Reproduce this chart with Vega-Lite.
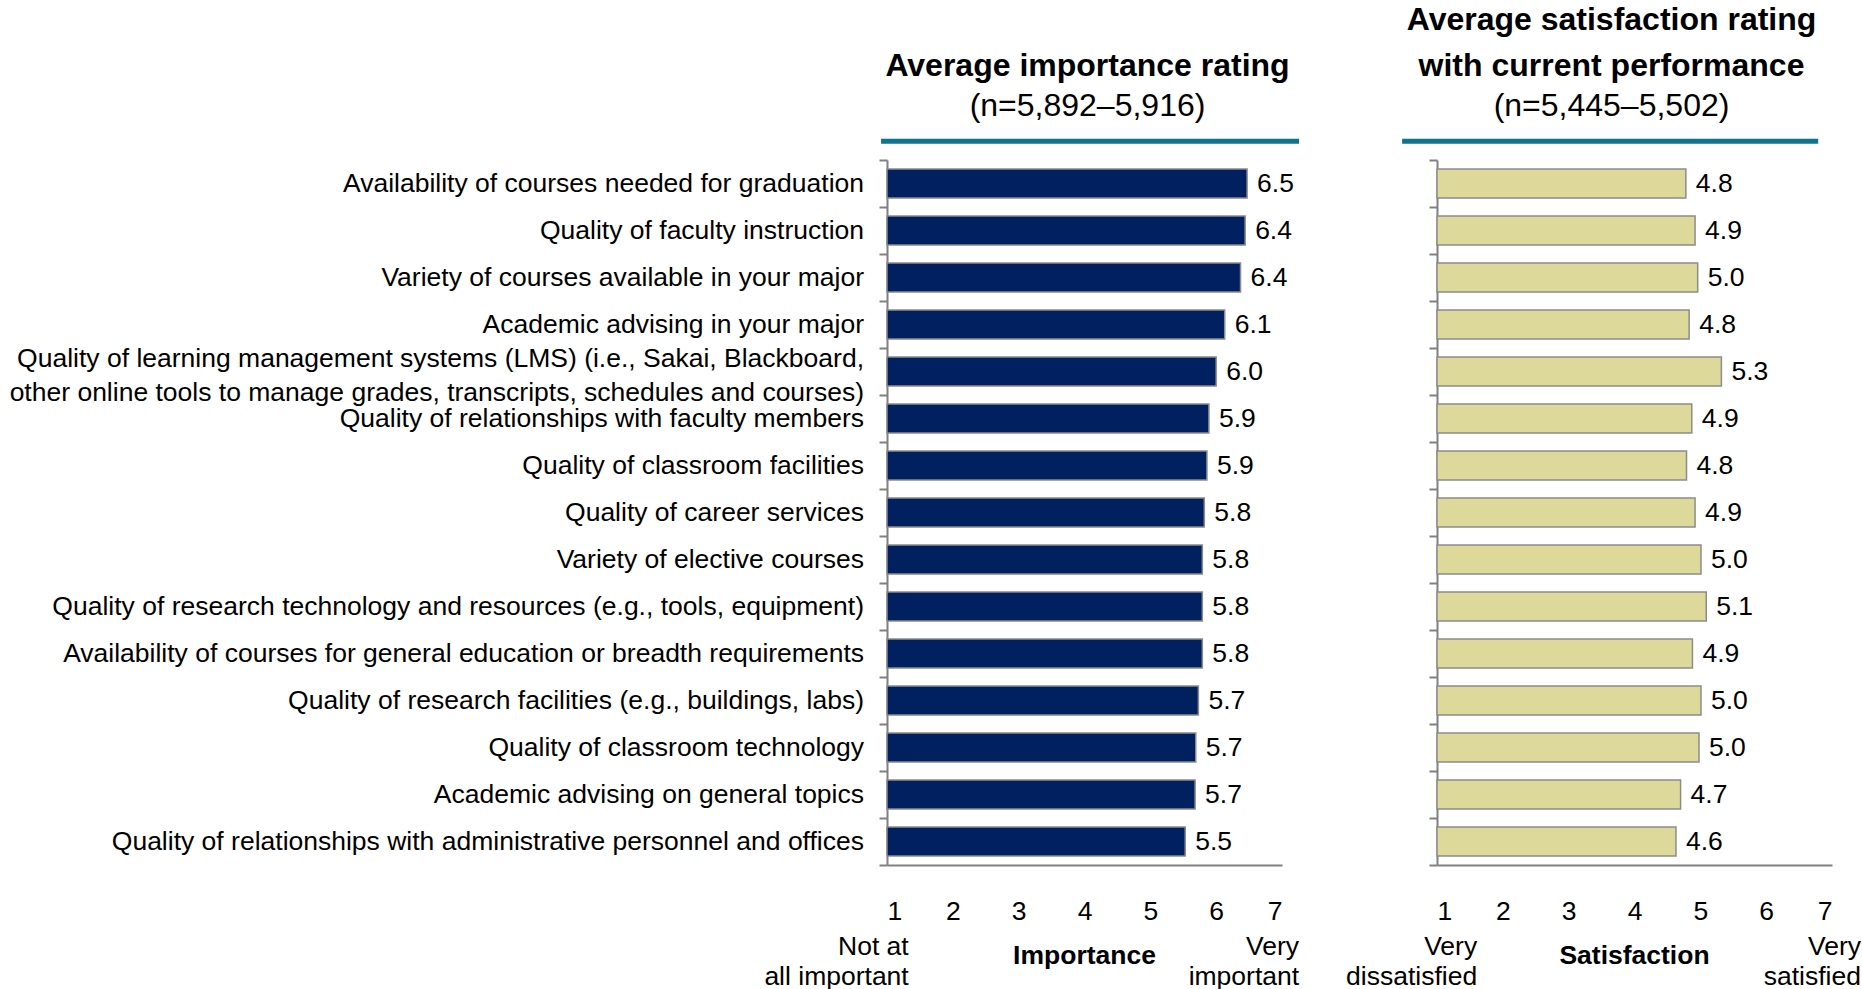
{
  "$schema": "https://vega.github.io/schema/vega-lite/v6.json",
  "background": "white",
  "padding": {"left": 9, "top": 3, "right": 0, "bottom": 0},
  "bounds": "flush",
  "spacing": 155,
  "config": {"font": "Liberation Sans", "view": {"stroke": null}},
  "datasets": {
    "items": [
      {"item": "Availability of courses needed for graduation", "importance": 6.47, "satisfaction": 4.78},
      {"item": "Quality of faculty instruction", "importance": 6.44, "satisfaction": 4.92},
      {"item": "Variety of courses available in your major", "importance": 6.37, "satisfaction": 4.96},
      {"item": "Academic advising in your major", "importance": 6.13, "satisfaction": 4.83},
      {"item": "Quality of learning management systems (LMS) (i.e., Sakai, Blackboard,\nother online tools to manage grades, transcripts, schedules and courses)", "importance": 6.0, "satisfaction": 5.32},
      {"item": "Quality of relationships with faculty members", "importance": 5.89, "satisfaction": 4.87},
      {"item": "Quality of classroom facilities", "importance": 5.86, "satisfaction": 4.79},
      {"item": "Quality of career services", "importance": 5.82, "satisfaction": 4.92},
      {"item": "Variety of elective courses", "importance": 5.79, "satisfaction": 5.01},
      {"item": "Quality of research technology and resources (e.g., tools, equipment)", "importance": 5.79, "satisfaction": 5.09},
      {"item": "Availability of courses for general education or breadth requirements", "importance": 5.79, "satisfaction": 4.88},
      {"item": "Quality of research facilities (e.g., buildings, labs)", "importance": 5.73, "satisfaction": 5.01},
      {"item": "Quality of classroom technology", "importance": 5.69, "satisfaction": 4.98},
      {"item": "Academic advising on general topics", "importance": 5.68, "satisfaction": 4.7},
      {"item": "Quality of relationships with administrative personnel and offices", "importance": 5.53, "satisfaction": 4.63}
    ]
  },
  "hconcat": [
    {
      "width": 395,
      "height": 705,
      "title": {
        "text": "Average importance rating",
        "subtitle": "(n=5,892–5,916)",
        "fontSize": 32,
        "fontWeight": "bold",
        "color": "black",
        "subtitleFontSize": 32,
        "subtitleColor": "black",
        "subtitlePadding": 8,
        "frame": "group",
        "anchor": "middle",
        "offset": 16,
        "dx": 3
      },
      "resolve": {"scale": {"y": "independent"}},
      "layer": [
        {
          "data": {"name": "items"},
          "mark": {"type": "bar", "color": "#00205F", "stroke": "#8C8C8C", "strokeWidth": 1.5, "height": {"band": 0.62}},
          "encoding": {
            "y": {
              "field": "item", "type": "nominal", "sort": null,
              "scale": {"paddingInner": 0, "paddingOuter": 0},
              "axis": {
                "title": null, "labels": false, "domainColor": "#808080", "domainWidth": 2,
                "tickColor": "#808080", "tickWidth": 2, "tickSize": 8, "tickBand": "extent"
              }
            },
            "x": {
              "field": "importance", "type": "quantitative",
              "scale": {"domain": [1, 7], "nice": false, "zero": false},
              "axis": {
                "values": [1, 2, 3, 4, 5, 6, 7], "format": "d", "title": null, "grid": false,
                "ticks": false, "tickSize": 0, "domainColor": "#808080", "domainWidth": 2,
                "labelFontSize": 26.5, "labelColor": "black", "labelPadding": 33
              }
            },
            "x2": {"datum": 1}
          }
        },
        {
          "data": {"name": "items"},
          "mark": {
            "type": "text", "align": "right", "baseline": "middle", "dx": -23, "fontSize": 26.5, "color": "black",
            "lineBreak": "\n", "lineHeight": 34,
            "dy": {"expr": "indexof(datum.item, 'LMS') >= 0 ? -12.5 : 0"}
          },
          "encoding": {
            "y": {"field": "item", "type": "nominal", "sort": null, "scale": {"paddingInner": 0, "paddingOuter": 0}, "axis": null},
            "x": {"datum": 1},
            "text": {"field": "item", "type": "nominal"}
          }
        },
        {
          "data": {"name": "items"},
          "mark": {"type": "text", "align": "left", "baseline": "middle", "dx": 10, "fontSize": 26.5, "color": "black"},
          "encoding": {
            "y": {"field": "item", "type": "nominal", "sort": null, "scale": {"paddingInner": 0, "paddingOuter": 0}, "axis": null},
            "x": {"field": "importance", "type": "quantitative"},
            "text": {"field": "importance", "type": "quantitative", "format": ".1f"}
          }
        },
        {
          "data": {"values": [{}]},
          "mark": {"type": "rule", "color": "#0D7391", "strokeWidth": 5},
          "encoding": {
            "x": {"datum": 0.91},
            "x2": {"datum": 7.26},
            "y": {"datum": 15.4, "type": "quantitative", "scale": {"domain": [0, 15], "nice": false, "zero": false}, "axis": null}
          }
        },
        {
          "data": {"values": [{}]},
          "mark": {"type": "text", "text": ["Not at", "all important"], "align": "right", "baseline": "middle", "lineHeight": 30, "fontSize": 26.5, "color": "black"},
          "encoding": {
            "x": {"datum": 1.33},
            "y": {"datum": -1.74, "type": "quantitative", "scale": {"domain": [0, 15], "nice": false, "zero": false}, "axis": null}
          }
        },
        {
          "data": {"values": [{}]},
          "mark": {"type": "text", "text": "Importance", "align": "center", "baseline": "middle", "fontSize": 26.5, "fontWeight": "bold", "color": "black"},
          "encoding": {
            "x": {"datum": 4},
            "y": {"datum": -1.93, "type": "quantitative", "scale": {"domain": [0, 15], "nice": false, "zero": false}, "axis": null}
          }
        },
        {
          "data": {"values": [{}]},
          "mark": {"type": "text", "text": ["Very", "important"], "align": "right", "baseline": "middle", "lineHeight": 30, "fontSize": 26.5, "color": "black"},
          "encoding": {
            "x": {"datum": 7.26},
            "y": {"datum": -1.74, "type": "quantitative", "scale": {"domain": [0, 15], "nice": false, "zero": false}, "axis": null}
          }
        }
      ]
    },
    {
      "width": 395,
      "height": 705,
      "title": {
        "text": ["Average satisfaction rating", "with current performance"],
        "subtitle": "(n=5,445–5,502)",
        "fontSize": 32,
        "fontWeight": "bold",
        "lineHeight": 46,
        "color": "black",
        "subtitleFontSize": 32,
        "subtitleColor": "black",
        "subtitlePadding": 8,
        "frame": "group",
        "anchor": "middle",
        "offset": 16,
        "dx": -23
      },
      "resolve": {"scale": {"y": "independent"}},
      "layer": [
        {
          "data": {"name": "items"},
          "mark": {"type": "bar", "color": "#DDD99A", "stroke": "#8C8C8C", "strokeWidth": 1.5, "height": {"band": 0.62}},
          "encoding": {
            "y": {
              "field": "item", "type": "nominal", "sort": null,
              "scale": {"paddingInner": 0, "paddingOuter": 0},
              "axis": {
                "title": null, "labels": false, "domainColor": "#808080", "domainWidth": 2,
                "tickColor": "#808080", "tickWidth": 2, "tickSize": 8, "tickBand": "extent"
              }
            },
            "x": {
              "field": "satisfaction", "type": "quantitative",
              "scale": {"domain": [1, 7], "nice": false, "zero": false},
              "axis": {
                "values": [1, 2, 3, 4, 5, 6, 7], "format": "d", "title": null, "grid": false,
                "ticks": false, "tickSize": 0, "domainColor": "#808080", "domainWidth": 2,
                "labelFontSize": 26.5, "labelColor": "black", "labelPadding": 33
              }
            },
            "x2": {"datum": 1}
          }
        },
        {
          "data": {"name": "items"},
          "mark": {"type": "text", "align": "left", "baseline": "middle", "dx": 10, "fontSize": 26.5, "color": "black"},
          "encoding": {
            "y": {"field": "item", "type": "nominal", "sort": null, "scale": {"paddingInner": 0, "paddingOuter": 0}, "axis": null},
            "x": {"field": "satisfaction", "type": "quantitative"},
            "text": {"field": "satisfaction", "type": "quantitative", "format": ".1f"}
          }
        },
        {
          "data": {"values": [{}]},
          "mark": {"type": "rule", "color": "#0D7391", "strokeWidth": 5},
          "encoding": {
            "x": {"datum": 0.47},
            "x2": {"datum": 6.79},
            "y": {"datum": 15.4, "type": "quantitative", "scale": {"domain": [0, 15], "nice": false, "zero": false}, "axis": null}
          }
        },
        {
          "data": {"values": [{}]},
          "mark": {"type": "text", "text": ["Very", "dissatisfied"], "align": "right", "baseline": "middle", "lineHeight": 30, "fontSize": 26.5, "color": "black"},
          "encoding": {
            "x": {"datum": 1.61},
            "y": {"datum": -1.74, "type": "quantitative", "scale": {"domain": [0, 15], "nice": false, "zero": false}, "axis": null}
          }
        },
        {
          "data": {"values": [{}]},
          "mark": {"type": "text", "text": "Satisfaction", "align": "center", "baseline": "middle", "fontSize": 26.5, "fontWeight": "bold", "color": "black"},
          "encoding": {
            "x": {"datum": 4},
            "y": {"datum": -1.93, "type": "quantitative", "scale": {"domain": [0, 15], "nice": false, "zero": false}, "axis": null}
          }
        },
        {
          "data": {"values": [{}]},
          "mark": {"type": "text", "text": ["Very", "satisfied"], "align": "right", "baseline": "middle", "lineHeight": 30, "fontSize": 26.5, "color": "black"},
          "encoding": {
            "x": {"datum": 7.44},
            "y": {"datum": -1.74, "type": "quantitative", "scale": {"domain": [0, 15], "nice": false, "zero": false}, "axis": null}
          }
        }
      ]
    }
  ]
}
